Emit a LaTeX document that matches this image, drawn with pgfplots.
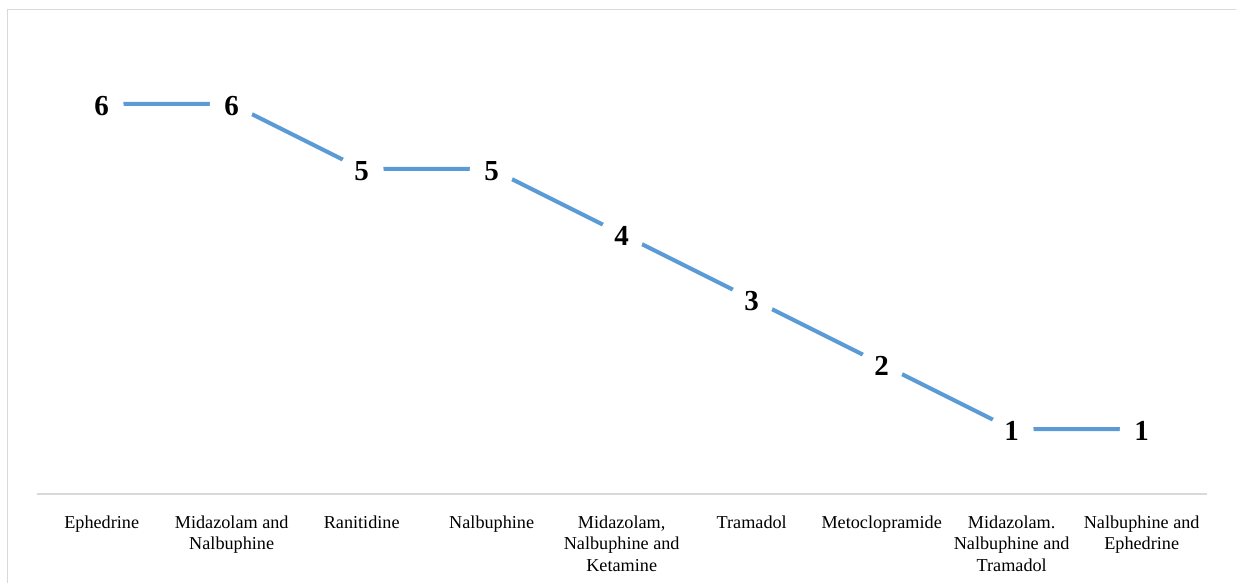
\documentclass[border=0pt]{standalone}
\usepackage{fontspec}
\setmainfont{Liberation Serif}
\usepackage{pgfplots}
\pgfplotsset{compat=1.18}
\definecolor{lineblue}{HTML}{5B9BD5}
\definecolor{bordergray}{HTML}{D9D9D9}
\begin{document}
\begin{tikzpicture}
\begin{axis}[
  at={(0,0)}, anchor=south west,
  scale only axis, width=585bp, height=227.5bp,
  xmin=-0.5, xmax=8.5, ymin=0, ymax=7,
  axis x line*=bottom, axis y line=none,
  x axis line style={bordergray, line width=0.75bp},
  ytick=\empty,
  xtick={0,...,8},
  major tick length=0pt,
  xticklabels={Ephedrine,{Midazolam and\\Nalbuphine},Ranitidine,Nalbuphine,{Midazolam,\\Nalbuphine and\\Ketamine},Tramadol,Metoclopramide,{Midazolam.\\Nalbuphine and\\Tramadol},{Nalbuphine and\\Ephedrine}},
  xticklabel style={font=\fontsize{9.1bp}{10.85bp}\selectfont, align=center, anchor=north, inner sep=0pt, yshift=-10.5bp},
  clip=false,
  /pgf/number format/assume math mode=true,
  nodes near coords,
  every node near coord/.append style={anchor=center, circle, fill=white, inner sep=0pt, minimum size=22bp, font=\bfseries\fontsize{14.5bp}{14.5bp}\selectfont, text=black, yshift=-1bp},
]
\addplot[lineblue, line width=2bp, mark=none] coordinates {
(0,6) (1,6) (2,5) (3,5) (4,4) (5,3) (6,2) (7,1) (8,1)
};
\end{axis}
\draw[bordergray, line width=0.75bp] (-14.6bp,-60bp) -- (-14.6bp,242.25bp) -- (640bp,242.25bp);
\pgfresetboundingbox
\useasboundingbox (-18.35bp,-44.5bp) rectangle (599.65bp,247bp);
\end{tikzpicture}
\end{document}
